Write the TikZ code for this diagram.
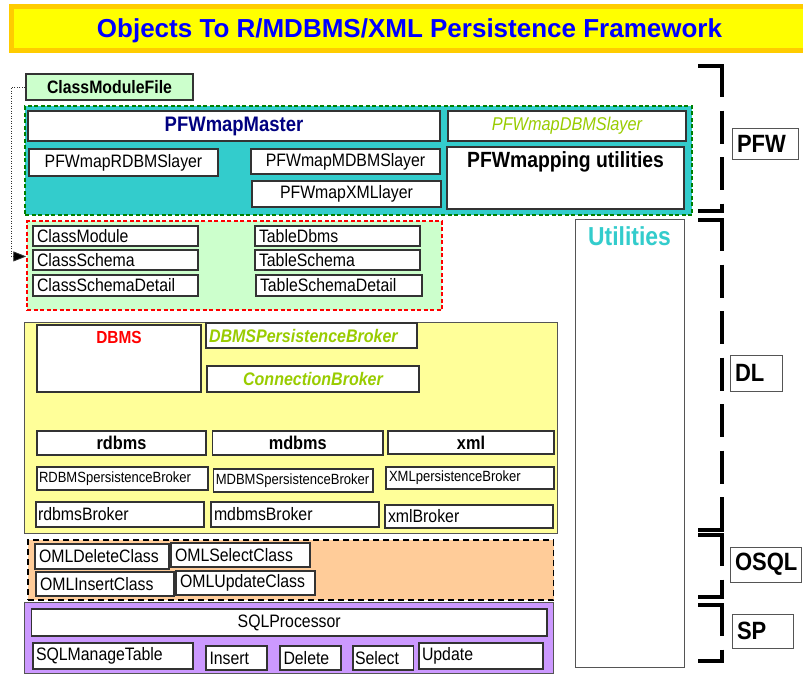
\documentclass[tikz,border=0pt]{standalone}
\usepackage{fontspec}
\setmainfont{Liberation Sans}[FakeStretch=0.88]
\newfontfamily\titlefont{Liberation Sans}
\usetikzlibrary{arrows.meta,calc}

\definecolor{titleorange}{HTML}{FFCC00}
\definecolor{titleyellow}{HTML}{FFFF00}
\definecolor{titleblue}{HTML}{0000FF}
\definecolor{pfwteal}{HTML}{33CCCC}
\definecolor{pfwgreen}{HTML}{008000}
\definecolor{masternavy}{HTML}{000080}
\definecolor{brokergreen}{HTML}{99CC00}
\definecolor{mint}{HTML}{CCFFCC}
\definecolor{dlyellow}{HTML}{FFFF99}
\definecolor{osqlorange}{HTML}{FFCC99}
\definecolor{sppurple}{HTML}{CC99FF}
\definecolor{edge}{HTML}{333333}
\definecolor{softedge}{HTML}{555555}

% box with centred text: [options]{name}{x1}{y1}{x2}{y2}{text}
\newcommand\cbox[7][]{%
  \node[bx,#1,minimum width={#5-#3},minimum height={#6-#4}]
    (#2) at ({(#3+#5)/2},{(#4+#6)/2}) {#7};}
% box with left-aligned text
\newcommand\lbox[7][]{%
  \node[bx,text width={#5-#3-8},align=left,inner xsep=4pt,#1,
        minimum width={#5-#3},minimum height={#6-#4}]
    (#2) at ({(#3+#5)/2},{(#4+#6)/2}) {#7};}

\begin{document}
\begin{tikzpicture}[x=1pt,y=-1pt,
  bx/.style={draw=edge,line width=1.3pt,fill=white,inner sep=0pt,
             font=\fontsize{18}{20}\selectfont},
  container/.style={line width=1.5pt,font=\fontsize{18}{20}\selectfont},
  small/.style={font=\fontsize{14.8}{16}\selectfont},
  boldtxt/.style={font=\bfseries\fontsize{18.5}{20}\selectfont},
  brokertxt/.style={text=brokergreen,font=\bfseries\itshape\fontsize{18.2}{20}\selectfont},
  lbl/.style={draw=softedge,line width=1pt,font=\bfseries\fontsize{25}{27}\selectfont,
              inner xsep=5pt},
  bracket/.style={line width=4pt,black},
  bracketdash/.style={line width=4pt,black,dash pattern=on 33pt off 13.5pt},
  link/.style={line width=0.8pt,black!80,dash pattern=on 1pt off 1.5pt,
               -{Triangle[length=13pt,width=10pt,fill=black]}}
]
\useasboundingbox (0,0) rectangle (803,675);
\fill[white] (0,0) rectangle (803,675);

% ---- title banner
\draw[line width=5pt,draw=titleorange,fill=titleyellow] (11.5,6.5) rectangle (815,50.5);
\node[text=titleblue,anchor=base,inner sep=0pt,
      font=\titlefont\bfseries\fontsize{26}{28}\selectfont]
  (title) at (409.5,37) {Objects To R/MDBMS/XML Persistence Framework};

% ---- PFW layer
\cbox[bx,fill=mint,font=\bfseries\fontsize{18}{20}\selectfont]{cmf}{26}{74}{193}{100}{ClassModuleFile}
\cbox[container,fill=pfwteal,draw=pfwgreen,dash pattern=on 4pt off 2.5pt]{pfw}{25}{106}{692}{215}{}
\cbox[text=masternavy,font=\bfseries\fontsize{21}{23}\selectfont]{master}{28}{111}{440}{141}{PFWmapMaster}
\cbox[text=brokergreen,font=\itshape\fontsize{18.5}{20}\selectfont]{dbmslayer}{448}{111}{686}{141}{PFWmapDBMSlayer}
\cbox{rdbmslayer}{29}{149}{218}{176}{PFWmapRDBMSlayer}
\cbox{mdbmslayer}{251}{149}{440}{174}{PFWmapMDBMSlayer}
\cbox{xmllayer}{252}{181}{441}{207}{PFWmapXMLlayer}
\cbox{maputil}{447}{147}{684}{209}{}
\node[font=\bfseries\fontsize{22}{24}\selectfont] (maputil-t)
  at ([yshift=-16pt]maputil.north) {PFWmapping utilities};

% ---- utilities column
\cbox[draw=softedge,line width=1pt]{util}{575}{219}{684}{667}{}
\node[text=pfwteal,font=\bfseries\fontsize{26}{28}\selectfont] (util-t)
  at ([yshift=-18pt]util.north) {Utilities};

% ---- class / table schema
\cbox[container,fill=mint,draw=red,dash pattern=on 4pt off 2.5pt]{cls}{27}{221}{442}{310}{}
\lbox{classmodule}{33}{226}{198}{246}{ClassModule}
\lbox{classschema}{33}{250}{198}{270}{ClassSchema}
\lbox{classdetail}{33}{275}{198}{296}{ClassSchemaDetail}
\lbox{tabledbms}{255}{226}{420}{246}{TableDbms}
\lbox{tableschema}{255}{250}{420}{270}{TableSchema}
\lbox{tabledetail}{256}{275}{422}{296}{TableSchemaDetail}

\coordinate (clsin) at ($(cls.north west)!0.4!(cls.south west)$);
\draw[link] (cmf.west) -- ++(-14,0) |- (clsin);

% ---- DBMS layer
\cbox[draw=softedge,line width=1pt,fill=dlyellow]{dl}{24}{322}{557}{533}{}
\cbox{dbms}{37}{325}{201}{392}{}
\node[text=red,font=\bfseries\fontsize{17.5}{19}\selectfont] (dbms-t)
  at ([yshift=-13pt]dbms.north) {DBMS};
\lbox[brokertxt,inner xsep=3pt,text width={211-6}]{pbroker}{206}{323}{417}{348}{DBMSPersistenceBroker}
\cbox[brokertxt]{cbroker}{207}{366}{419}{392}{ConnectionBroker}
\cbox[boldtxt]{rdbms}{37}{431}{206}{455}{rdbms}
\cbox[boldtxt]{mdbms}{212.5}{431}{383}{455}{mdbms}
\cbox[boldtxt]{xml}{388}{431}{554}{454}{xml}
\lbox[small,inner xsep=2pt,text width={171-4}]{rpb}{37}{467}{208}{490}{RDBMSpersistenceBroker}
\lbox[small,inner xsep=2pt,text width={159-4}]{mpb}{213.6}{469}{373}{492}{MDBMSpersistenceBroker}
\lbox[small,inner xsep=3pt,text width={168-6}]{xpb}{386}{467}{554}{489}{XMLpersistenceBroker}
\lbox[inner xsep=2pt,text width={168-4}]{rbroker}{36}{502}{204}{527}{rdbmsBroker}
\lbox[inner xsep=3pt,text width={168-6}]{mbroker}{211}{502}{379}{527}{mdbmsBroker}
\lbox[inner xsep=3pt,text width={168-6}]{xbroker}{385}{505}{553}{528}{xmlBroker}

% ---- OSQL layer
\cbox[container,fill=osqlorange,draw=black,dash pattern=on 6pt off 4pt]{osql}{28}{540}{553.6}{600}{}
\lbox[inner xsep=3.5pt]{omldel}{35}{544}{169}{569}{OMLDeleteClass}
\lbox[inner xsep=3.5pt]{omlsel}{171}{543}{310}{567}{OMLSelectClass}
\lbox[inner xsep=3pt]{omlins}{36}{572}{174}{596}{OMLInsertClass}
\lbox[inner xsep=3pt]{omlupd}{176}{571}{315}{595}{OMLUpdateClass}

% ---- SQL processor
\cbox[draw=softedge,line width=1pt,fill=sppurple]{sp}{24}{602}{553.6}{673}{}
\cbox{sqlproc}{31.4}{609}{547}{636}{SQLProcessor}
\lbox[inner xsep=3pt,text width={160-6}]{sqlmanage}{33}{643}{193}{669}{SQLManageTable}
\lbox[inner xsep=3.5pt,text width={61-7}]{sqlins}{206}{646}{267}{670}{Insert}
\lbox[inner xsep=3.5pt,text width={61-7}]{sqldel}{280}{646}{341}{670}{Delete}
\lbox[inner xsep=2pt,text width={60.6-4}]{sqlsel}{353}{646}{413.6}{670}{Select}
\lbox[inner xsep=3pt,text width={124-6}]{sqlupd}{419}{643}{543}{669}{Update}

% ---- layer brackets
\foreach \top/\bot in {66/211,220/530,535/597,605/661}{
  \draw[bracket] (698,\top) -- (724,\top);
  \draw[bracket] (698,\bot) -- (724,\bot);
  \draw[bracketdash] (722,\top-2) -- (722,\bot+2);
}
\lbox[lbl,text width={66-10}]{pfwlbl}{732}{128}{798}{159}{PFW}
\lbox[lbl,text width={52-10}]{dllbl}{730}{355}{782}{391}{DL}
\lbox[lbl,text width={71-10}]{osqllbl}{730}{547}{801}{582}{OSQL}
\lbox[lbl,text width={61-10}]{splbl}{732}{614}{793}{648}{SP}
\end{tikzpicture}
\end{document}
